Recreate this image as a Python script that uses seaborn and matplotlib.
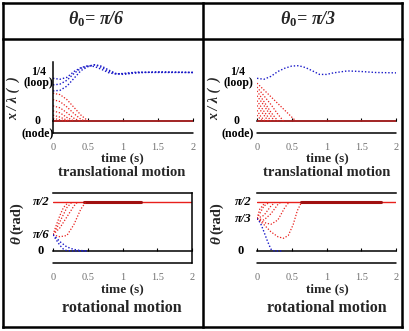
import matplotlib
matplotlib.use("Agg")
import matplotlib.pyplot as plt
import matplotlib.transforms as mtransforms
from matplotlib.lines import Line2D
import numpy as np
import pandas as pd
import seaborn as sns

# ---------------- data ----------------
time_ticks = [0, 0.5, 1, 1.5, 2]
time_tick_labels = ["0", "0.5", "1", "1.5", "2"]
steady_t = [0.0, 2.0]

# theta0 = pi/6, translational motion (x / lambda)
tl_red_t = [[0, 0.1, 0.2, 0.3, 0.4, 0.5],
            [0, 0.1, 0.2, 0.3, 0.4, 0.46],
            [0, 0.1, 0.2, 0.3, 0.38],
            [0, 0.1, 0.2, 0.3],
            [0, 0.1, 0.2, 0.25],
            [0, 0.1, 0.2]]
tl_red_v = [[0.143, 0.136, 0.110, 0.070, 0.030, 0.0],
            [0.110, 0.100, 0.072, 0.038, 0.008, 0.0],
            [0.078, 0.068, 0.042, 0.014, 0.0],
            [0.052, 0.042, 0.018, 0.0],
            [0.030, 0.020, 0.004, 0.0],
            [0.014, 0.006, 0.0]]
tl_blue_t = [[0, 0.1, 0.2, 0.3, 0.4, 0.5, 0.6, 0.7, 0.8, 0.9, 1.0, 1.2, 1.4, 1.6, 2.0],
             [0, 0.1, 0.2, 0.3, 0.4, 0.5, 0.6, 0.7, 0.8, 0.9, 1.0, 1.2, 1.5, 2.0],
             [0, 0.1, 0.2, 0.3, 0.4, 0.5, 0.6, 0.7, 0.8, 0.9, 1.0, 1.2, 1.5, 2.0]]
tl_blue_v = [[0.22, 0.215, 0.225, 0.255, 0.275, 0.285, 0.28, 0.265, 0.248, 0.242, 0.245, 0.252, 0.25, 0.25, 0.25],
             [0.186, 0.19, 0.21, 0.245, 0.272, 0.283, 0.29, 0.275, 0.255, 0.243, 0.243, 0.25, 0.252, 0.25],
             [0.155, 0.158, 0.18, 0.22, 0.26, 0.28, 0.29, 0.282, 0.262, 0.245, 0.24, 0.248, 0.253, 0.25]]
tl_node_v = [0.0, 0.0]

# theta0 = pi/3, translational motion
tr_red_t = [[0, 0.1, 0.2, 0.3, 0.4, 0.5, 0.56],
            [0, 0.1, 0.2, 0.3, 0.38],
            [0, 0.1, 0.2, 0.3],
            [0, 0.1, 0.2, 0.25],
            [0, 0.1, 0.2],
            [0, 0.1, 0.16],
            [0, 0.06, 0.12],
            [0, 0.05, 0.1]]
tr_red_v = [[0.195, 0.16, 0.125, 0.09, 0.055, 0.02, 0.0],
            [0.175, 0.13, 0.085, 0.035, 0.0],
            [0.155, 0.10, 0.045, 0.0],
            [0.13, 0.08, 0.025, 0.0],
            [0.105, 0.05, 0.0],
            [0.08, 0.03, 0.0],
            [0.055, 0.02, 0.0],
            [0.03, 0.008, 0.0]]
tr_blue_t = [[0, 0.1, 0.2, 0.3, 0.4, 0.5, 0.6, 0.7, 0.8, 0.9, 1.0, 1.1, 1.3, 1.5, 1.7, 2.0]]
tr_blue_v = [[0.22, 0.215, 0.23, 0.255, 0.272, 0.283, 0.285, 0.275, 0.258, 0.24, 0.24, 0.248, 0.258, 0.255, 0.25, 0.248]]
tr_node_v = [0.0, 0.0]

# theta0 = pi/6, rotational motion (theta, rad)
bl_red_t = [[0, 0.05, 0.1, 0.15, 0.22],
            [0, 0.05, 0.1, 0.2, 0.27],
            [0, 0.1, 0.2, 0.3, 0.35],
            [0, 0.1, 0.2, 0.3, 0.4, 0.47]]
bl_red_v = [[0.524, 0.85, 1.15, 1.40, 1.571],
            [0.524, 0.72, 0.95, 1.40, 1.571],
            [0.524, 0.75, 1.10, 1.45, 1.571],
            [0.524, 0.46, 0.50, 0.85, 1.35, 1.571]]
bl_blue_t = [[0, 0.05, 0.1, 0.15, 0.2, 0.3, 0.5],
             [0, 0.05, 0.1, 0.2, 0.3, 0.4, 0.5]]
bl_blue_v = [[0.524, 0.35, 0.18, 0.06, 0.01, 0.0, 0.0],
             [0.524, 0.42, 0.30, 0.13, 0.05, 0.015, 0.0]]
bl_top_v = [1.5708, 1.5708]
bl_dark_t = [0.45, 1.27]
bl_dark_v = [1.5708, 1.5708]

# theta0 = pi/3, rotational motion
br_red_t = [[0, 0.1, 0.2, 0.3, 0.38, 0.45, 0.52, 0.58, 0.64],
            [0, 0.1, 0.2, 0.3, 0.4, 0.46],
            [0, 0.1, 0.2, 0.3, 0.34],
            [0, 0.1, 0.2, 0.26],
            [0, 0.05, 0.1, 0.18],
            [0, 0.04, 0.12]]
br_red_v = [[1.047, 0.85, 0.62, 0.46, 0.41, 0.50, 0.85, 1.30, 1.571],
            [1.047, 0.92, 0.86, 1.00, 1.40, 1.571],
            [1.047, 1.00, 1.20, 1.50, 1.571],
            [1.047, 1.15, 1.45, 1.571],
            [1.047, 1.25, 1.45, 1.571],
            [1.047, 1.35, 1.571]]
br_blue_t = [[0, 0.05, 0.1, 0.15, 0.2, 0.25, 0.38]]
br_blue_v = [[1.047, 0.90, 0.62, 0.32, 0.06, 0.0, 0.0]]
br_top_v = [1.5708, 1.5708]
br_dark_t = [0.64, 1.79]
br_dark_v = [1.5708, 1.5708]

# ---------------- style ----------------
sns.set_theme(style="white")
plt.rcParams["font.family"] = ["Liberation Serif", "DejaVu Serif"]
plt.rcParams["mathtext.fontset"] = "custom"
plt.rcParams["mathtext.it"] = "Liberation Serif:italic:bold"
plt.rcParams["mathtext.rm"] = "Liberation Serif:bold"
plt.rcParams["mathtext.bf"] = "Liberation Serif:bold"

RED = "#e8201c"
STEADY = "#c42424"
DARK = "#a01010"
BLUE = "#1818c8"
DOT = (0, (1, 1.4))

W, H = 409, 331
fig = plt.figure(figsize=(W / 100, H / 100), dpi=100)


def rect(x0, x1, ytop, ybot):
    return [x0 / W, 1 - ybot / H, (x1 - x0) / W, (ybot - ytop) / H]


def long_df(ts, vs):
    rows = []
    for i, (t, v) in enumerate(zip(ts, vs)):
        for a, b in zip(t, v):
            rows.append((i, a, b))
    return pd.DataFrame(rows, columns=["curve", "t", "v"])


def curves(ax, ts, vs, color, ls=DOT, lw=0.9):
    sns.lineplot(data=long_df(ts, vs), x="t", y="v", units="curve",
                 estimator=None, sort=False, color=color, linestyle=ls,
                 lw=lw, ax=ax, legend=False)


def setup(ax, ylim, left_spine=False, box=False):
    ax.set_xlim(0, 2)
    ax.set_ylim(*ylim)
    ax.set_xlabel("")
    ax.set_ylabel("")
    ax.set_facecolor("none")
    for s in ax.spines.values():
        s.set_visible(False)
        s.set_color("black")
        s.set_linewidth(1.1)
    ax.spines["bottom"].set_visible(True)
    ax.spines["bottom"].set_position(("data", 0))
    ax.spines["bottom"].set_zorder(1)
    if left_spine:
        ax.spines["left"].set_visible(True)
    if box:
        ax.spines["top"].set_visible(True)
        ax.spines["right"].set_visible(True)
    ax.axhline(ylim[0], color="black", lw=1.1, clip_on=False)
    ax.set_xticks(time_ticks)
    ax.set_xticklabels(time_tick_labels)
    ax.tick_params(axis="x", direction="in", length=2.5, width=0.8,
                   color="black", pad=15.5, labelsize=7.5,
                   labelcolor="#707070", bottom=True)
    ax.set_yticks([])


def ylabel_text(ax, center_px, ax_left_px, ax_w_px, value, text, dy_px=0,
                size=8.5, style="normal"):
    trans = mtransforms.blended_transform_factory(ax.transAxes, ax.transData)
    trans = trans + mtransforms.ScaledTranslation(0, dy_px / 100, fig.dpi_scale_trans)
    ax.text((center_px - ax_left_px) / ax_w_px, value, text, transform=trans,
            ha="center", va="center", fontsize=size, fontweight="bold",
            fontstyle=style, color="black", clip_on=False)


TOP_Y = (-0.0619, 0.304)
BOT_Y = (-0.387, 1.88)

# ---------------- top left ----------------
ax = fig.add_axes(rect(53, 193, 62, 133))
sns.lineplot(x=steady_t, y=tl_node_v, color=STEADY, lw=1.1, ax=ax)
curves(ax, tl_red_t, tl_red_v, RED)
curves(ax, tl_blue_t, tl_blue_v, BLUE, lw=1.0)
setup(ax, TOP_Y, left_spine=True)
ylabel_text(ax, 38.5, 53, 140, 0.25, "1/4")
ylabel_text(ax, 38.5, 53, 140, 0.25, "(loop)", dy_px=-11)
ylabel_text(ax, 37.5, 53, 140, 0.0, "0")
ylabel_text(ax, 37.5, 53, 140, 0.0, "(node)", dy_px=-12)

# ---------------- top right ----------------
ax = fig.add_axes(rect(257, 396, 62, 133))
sns.lineplot(x=steady_t, y=tr_node_v, color=STEADY, lw=1.1, ax=ax)
curves(ax, tr_red_t, tr_red_v, RED)
curves(ax, tr_blue_t, tr_blue_v, BLUE, lw=1.0)
setup(ax, TOP_Y)
ylabel_text(ax, 238, 257, 139, 0.25, "1/4")
ylabel_text(ax, 238, 257, 139, 0.25, "(loop)", dy_px=-11)
ylabel_text(ax, 237, 257, 139, 0.0, "0")
ylabel_text(ax, 238, 257, 139, 0.0, "(node)", dy_px=-12)

# ---------------- bottom left ----------------
ax = fig.add_axes(rect(53, 192, 192.7, 263))
sns.lineplot(x=steady_t, y=bl_top_v, color=RED, lw=1.0, ax=ax)
sns.lineplot(x=bl_dark_t, y=bl_dark_v, color=DARK, lw=2.2, ax=ax)
curves(ax, bl_red_t, bl_red_v, RED)
curves(ax, bl_blue_t, bl_blue_v, BLUE, lw=1.0)
setup(ax, BOT_Y, box=True)
ylabel_text(ax, 41, 53, 139, 1.5708, "π/2", size=9, style="italic")
ylabel_text(ax, 41, 53, 139, 0.5236, "π/6", size=9, style="italic")
ylabel_text(ax, 41, 53, 139, 0.0, "0", size=9)

# ---------------- bottom right ----------------
ax = fig.add_axes(rect(257, 396, 192.7, 263))
sns.lineplot(x=steady_t, y=br_top_v, color=RED, lw=1.0, ax=ax)
sns.lineplot(x=br_dark_t, y=br_dark_v, color=DARK, lw=2.2, ax=ax)
curves(ax, br_red_t, br_red_v, RED)
curves(ax, br_blue_t, br_blue_v, BLUE, lw=1.0)
setup(ax, BOT_Y)
ax.spines["top"].set_visible(True)
ylabel_text(ax, 243, 257, 139, 1.5708, "π/2", size=9, style="italic")
ylabel_text(ax, 243, 257, 139, 1.0472, "π/3", size=9, style="italic")
ylabel_text(ax, 241, 257, 139, 0.0, "0", size=9)

# ---------------- figure texts ----------------
def ftext(x, y, s, size, **kw):
    fig.text(x / W, 1 - y / H, s, fontsize=size, fontweight="bold",
             ha="center", va="center", **kw)

ftext(96, 19, "θ$_0$= π/6", 13, fontstyle="italic")
ftext(308, 19, "θ$_0$= π/3", 13, fontstyle="italic")
for cx in (13, 214):
    ftext(cx, 98, "x / λ (  )", 10, rotation=90, fontstyle="italic")
for cx in (17, 217):
    ftext(cx, 240.5, "θ", 11, rotation=90, fontstyle="italic")
    ftext(cx, 218, "(rad)", 10.5, rotation=90)
for cx in (122, 327):
    ftext(cx, 158, "time (s)", 9.5)
    ftext(cx, 172.5, "translational motion", 10.5)
    ftext(cx, 289, "time (s)", 9.5)
    ftext(cx, 308, "rotational motion", 11.5)

# table frame
lw_frame = 1.8
for (x0, y0, x1, y1) in [(2.5, 3, 401.5, 3), (2.5, 326.5, 401.5, 326.5),
                         (2.5, 3, 2.5, 326.5), (401.5, 3, 401.5, 326.5),
                         (202.5, 3, 202.5, 326.5), (2.5, 39, 401.5, 39)]:
    fig.add_artist(Line2D([x0 / W, x1 / W], [1 - y0 / H, 1 - y1 / H],
                          transform=fig.transFigure, color="black",
                          lw=lw_frame, solid_capstyle="projecting"))

fig.savefig("out.png", dpi=100)
